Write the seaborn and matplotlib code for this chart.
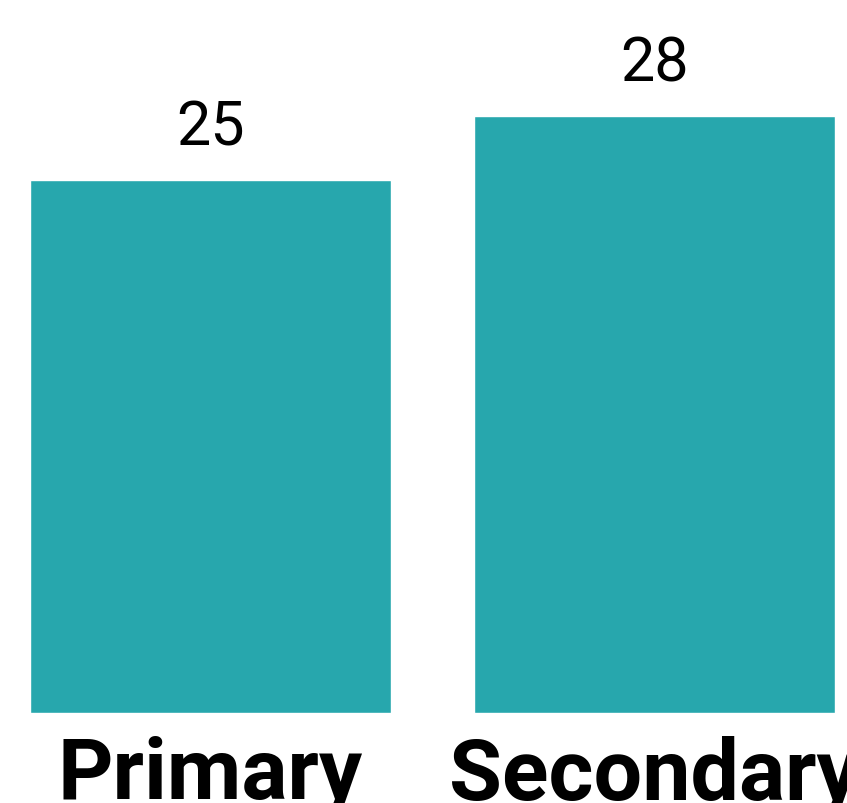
import matplotlib
matplotlib.use("Agg")
import matplotlib.pyplot as plt
import pandas as pd
import seaborn as sns

# Data
categories = ["Primary", "Secondary"]
values = [25, 28]

df = pd.DataFrame({"level": categories, "value": values})

sns.set_style("white")
plt.rcParams['font.family'] = ['Roboto', 'DejaVu Sans']

fig = plt.figure(figsize=(8.47, 8.04), dpi=100)
ax = fig.add_axes([0, 90 / 804, 1, 714 / 804])

sns.barplot(data=df, x="level", y="value", color="#27A7AD", saturation=1,
            width=0.813, ax=ax)

ax.set_xlim(-0.474, 1.434)
ax.set_ylim(0, 33.5)

# value labels above bars
for c in ax.containers:
    ax.bar_label(c, fontsize=44, padding=17, color="black")

ax.set_xlabel("")
ax.set_ylabel("")
ax.set_yticks([])
ax.tick_params(axis="x", length=0, pad=16)
for lbl in ax.get_xticklabels():
    lbl.set_fontsize(62)
    lbl.set_fontweight("bold")
    lbl.set_color("black")
sns.despine(left=True, bottom=True, ax=ax)

fig.savefig("out.png", dpi=100)
